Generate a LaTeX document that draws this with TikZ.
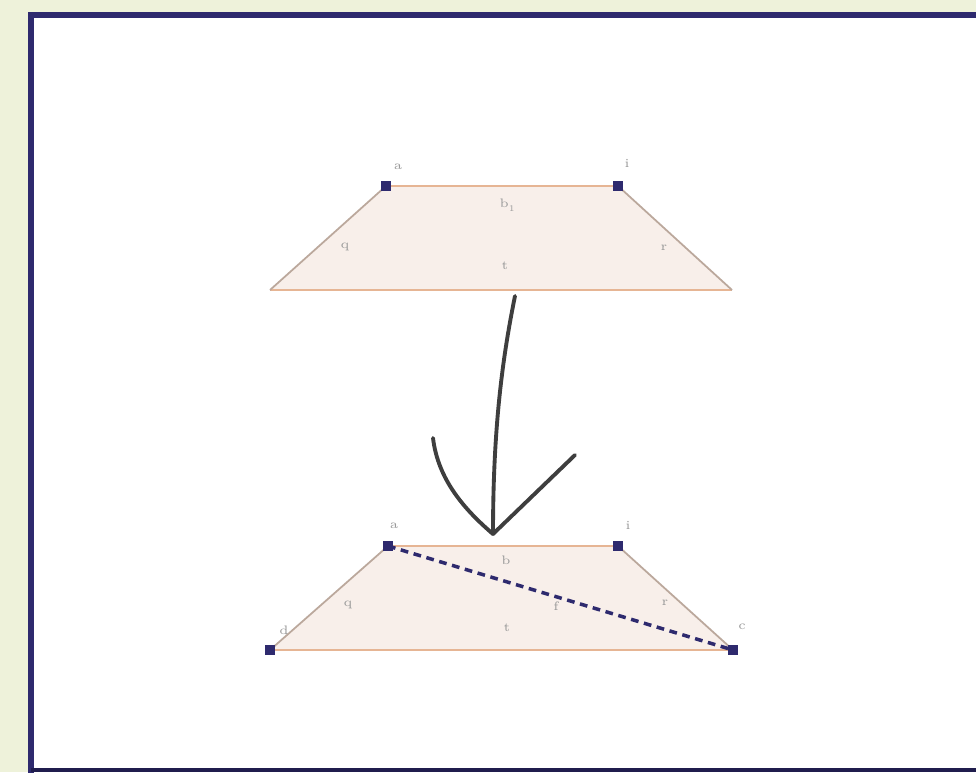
\documentclass[tikz,border=0pt]{standalone}
\usepackage{tikz}
\usetikzlibrary{calc}
\usepackage{xcolor}
\definecolor{bgpage}{HTML}{EEF2DA}
\definecolor{navy}{HTML}{2E2A6E}
\definecolor{peach}{HTML}{F8EFEA}
\definecolor{tan}{HTML}{E6B594}
\definecolor{sidegray}{HTML}{BBA89C}
\definecolor{ink}{HTML}{3E3E3E}
\definecolor{lbl}{HTML}{9A9A9A}
\tikzset{
  trap/.style={fill=peach, draw=none},
  baseedge/.style={draw=tan, line width=0.7pt},
  sideedge/.style={draw=sidegray, line width=0.5pt},
  vtx/.style={fill=navy, draw=none, minimum size=2.8pt, inner sep=0pt, rectangle},
  diag/.style={draw=navy, line width=1pt, dash pattern=on 2.2pt off 1.6pt},
  stroke/.style={draw=ink, line width=1.1pt, line cap=round, line join=round},
  tag/.style={text=lbl, font=\fontsize{3.5}{4}\selectfont, inner sep=0pt}
}
\begin{document}
\begin{tikzpicture}[x=0.01cm, y=-0.01cm]
  \useasboundingbox (0,0) rectangle (976,772);
  % page and frame
  \fill[bgpage] (0,0) rectangle (976,772);
  \fill[white] (31,15) rectangle (976,770);
  \draw[navy, line width=1.8pt] (31,780) -- (31,15) -- (990,15);
  \draw[navy!70!black, line width=1.4pt] (31,770) -- (990,770);

  % upper trapezoid
  \coordinate (tA) at (386,186);
  \coordinate (tB) at (618,186);
  \coordinate (tC) at (732,290);
  \coordinate (tD) at (270,290);
  \fill[trap] (tA) -- (tB) -- (tC) -- (tD) -- cycle;
  \draw[baseedge] (tA) -- (tB);
  \draw[baseedge] (tD) -- (tC);
  \draw[sideedge] (tD) -- (tA);
  \draw[sideedge] (tB) -- (tC);
  \node[vtx] (ta) at (tA) {};
  \node[vtx] (tb) at (tB) {};
  \node[tag] (tla) at (398,167) {a};
  \node[tag] (tlb) at (627,163) {i};
  \node[tag] (tlt) at (508,205) {b\textsubscript{1}};
  \node[tag] (tll) at (345,247) {q};
  \node[tag] (tlr) at (664,248) {r};
  \node[tag] (tlm) at (505,266) {t};

  % lower trapezoid
  \coordinate (bA) at (388,546);
  \coordinate (bB) at (618,546);
  \coordinate (bC) at (733,650);
  \coordinate (bD) at (270,650);
  \fill[trap] (bA) -- (bB) -- (bC) -- (bD) -- cycle;
  \draw[baseedge] (bA) -- (bB);
  \draw[baseedge] (bD) -- (bC);
  \draw[sideedge] (bD) -- (bA);
  \draw[sideedge] (bB) -- (bC);
  \draw[diag] (bA) -- (bC);
  \node[vtx] (ba) at (bA) {};
  \node[vtx] (bb) at (bB) {};
  \node[vtx] (bc) at (bC) {};
  \node[vtx] (bd) at (bD) {};
  \node[tag] (bla) at (394,526) {a};
  \node[tag] (blb) at (628,525) {i};
  \node[tag] (blc) at (742,627) {c};
  \node[tag] (bld) at (284,630) {d};
  \node[tag] (blt) at (506,560) {b};
  \node[tag] (bll) at (348,605) {q};
  \node[tag] (blr) at (665,603) {r};
  \node[tag] (blg) at (556,606) {f};
  \node[tag] (blm) at (507,628) {t};

  % hand drawn arrow
  \coordinate (from) at (515,296);
  \coordinate (to) at (493,534);
  \coordinate (wingL) at (433,438);
  \coordinate (wingR) at (575,455);
  \draw[stroke] (from) .. controls (502,360) and (493,430) .. (to);
  \draw[stroke] (wingL) .. controls (438,480) and (465,510) .. (to);
  \draw[stroke] (wingR) -- (to);
\end{tikzpicture}
\end{document}
